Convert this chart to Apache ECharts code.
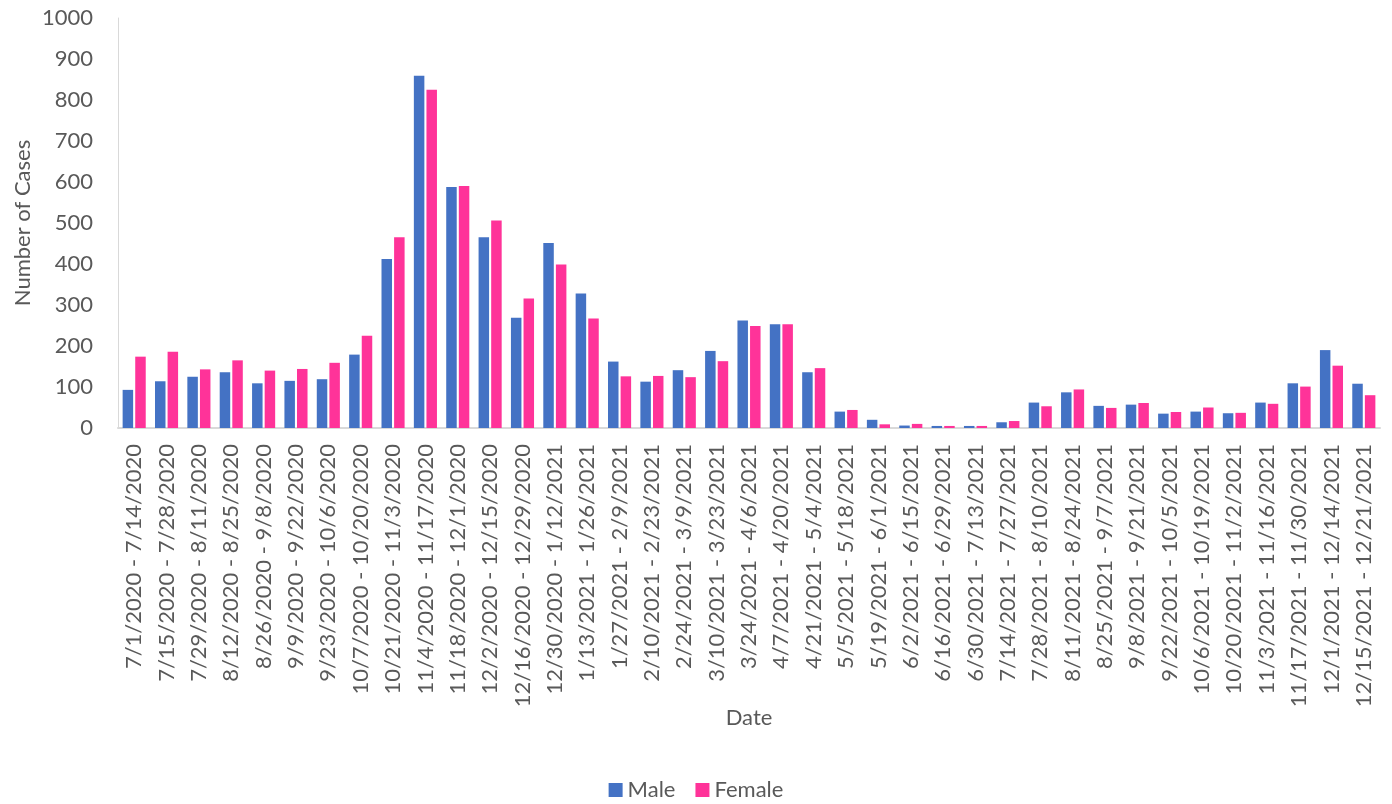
<!DOCTYPE html>
<html>
<head>
<meta charset="utf-8">
<script src="https://cdn.jsdelivr.net/npm/echarts@6/dist/echarts.min.js"></script>
<style>html,body{margin:0;padding:0;background:#fff}#c{width:1392px;height:804px}</style>
</head>
<body>
<div id="c"></div>
<script>
const categories = [
"7/1/2020 - 7/14/2020","7/15/2020 - 7/28/2020","7/29/2020 - 8/11/2020","8/12/2020 - 8/25/2020",
"8/26/2020 - 9/8/2020","9/9/2020 - 9/22/2020","9/23/2020 - 10/6/2020","10/7/2020 - 10/20/2020",
"10/21/2020 - 11/3/2020","11/4/2020 - 11/17/2020","11/18/2020 - 12/1/2020","12/2/2020 - 12/15/2020",
"12/16/2020 - 12/29/2020","12/30/2020 - 1/12/2021","1/13/2021 - 1/26/2021","1/27/2021 - 2/9/2021",
"2/10/2021 - 2/23/2021","2/24/2021 - 3/9/2021","3/10/2021 - 3/23/2021","3/24/2021 - 4/6/2021",
"4/7/2021 - 4/20/2021","4/21/2021 - 5/4/2021","5/5/2021 - 5/18/2021","5/19/2021 - 6/1/2021",
"6/2/2021 - 6/15/2021","6/16/2021 - 6/29/2021","6/30/2021 - 7/13/2021","7/14/2021 - 7/27/2021",
"7/28/2021 - 8/10/2021","8/11/2021 - 8/24/2021","8/25/2021 - 9/7/2021","9/8/2021 - 9/21/2021",
"9/22/2021 - 10/5/2021","10/6/2021 - 10/19/2021","10/20/2021 - 11/2/2021","11/3/2021 - 11/16/2021",
"11/17/2021 - 11/30/2021","12/1/2021 - 12/14/2021","12/15/2021 - 12/21/2021"
];
const male = [93,114,125,136,109,115,119,179,412,859,588,465,269,451,328,162,113,141,188,262,253,136,40,20,6,5,5,14,62,87,54,57,35,40,36,62,109,190,108];
const female = [174,186,143,165,140,144,159,225,465,825,590,506,316,399,267,126,127,124,163,249,253,146,44,9,10,5,5,17,53,94,49,61,39,50,37,59,101,152,80];
const yTicks = {min: 0, max: 1000, interval: 100};

const FONT = 'Lato, "Open Sans", sans-serif';
const TXT = '#595959';
const chart = echarts.init(document.getElementById('c'), null, {renderer: 'canvas'});
chart.setOption({
  animation: false,
  textStyle: {fontFamily: FONT},
  grid: {left: 118, right: 12, top: 18, bottom: 376, containLabel: false, outerBoundsMode: 'none'},
  legend: {
    top: 774, left: 'center', itemWidth: 14, itemHeight: 14, itemGap: 20,
    icon: 'rect',
    textStyle: {fontFamily: FONT, fontSize: 22, color: TXT},
    data: ['Male', 'Female']
  },
  xAxis: {
    type: 'category', data: categories,
    name: 'Date', nameLocation: 'middle', nameGap: 279, nameMoveOverlap: false,
    nameTextStyle: {fontFamily: FONT, fontSize: 22, color: TXT},
    axisLine: {show: true, lineStyle: {color: '#d9d9d9', width: 2}},
    axisTick: {show: false},
    axisLabel: {interval: 0, rotate: 90, margin: 16, fontFamily: FONT, fontSize: 22, color: TXT}
  },
  yAxis: {
    type: 'value', min: yTicks.min, max: yTicks.max, interval: yTicks.interval,
    name: 'Number of Cases', nameLocation: 'middle', nameGap: 84, nameMoveOverlap: false,
    nameTextStyle: {fontFamily: FONT, fontSize: 22, color: TXT},
    axisLine: {show: true, lineStyle: {color: '#d9d9d9', width: 1}},
    axisTick: {show: false},
    splitLine: {show: false},
    axisLabel: {margin: 25, fontFamily: FONT, fontSize: 22, color: TXT, formatter: v => String(v)}
  },
  series: [
    {name: 'Male', type: 'bar', data: male, barWidth: 10.5, barGap: '20%',
     itemStyle: {color: '#4472C4'}},
    {name: 'Female', type: 'bar', data: female, barWidth: 10.5, barGap: '20%',
     itemStyle: {color: '#FF3399'}}
  ]
});
</script>
</body>
</html>
